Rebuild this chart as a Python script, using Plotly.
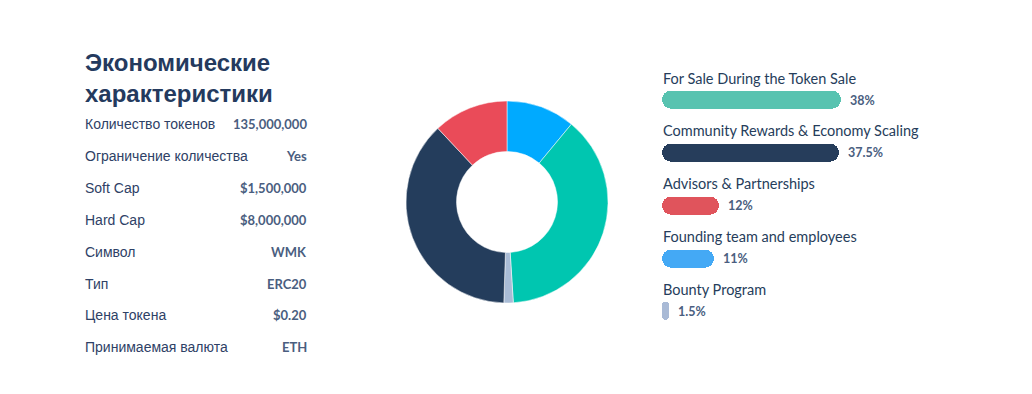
import plotly.graph_objects as go

# ---- data ----
categories = [
    "For Sale During the Token Sale",
    "Community Rewards & Economy Scaling",
    "Advisors & Partnerships",
    "Founding team and employees",
    "Bounty Program",
]
shares = [38, 37.5, 12, 11, 1.5]
bar_colors = ["#58C3B0", "#263D5B", "#E0545C", "#44A9F5", "#A9BAD6"]
pie_colors = ["#00C6B0", "#243D5C", "#EA4B59", "#00AAFF", "#A9BCD6"]
# clockwise order of slices starting at 12 o'clock
pie_order = [
    "Founding team and employees",
    "For Sale During the Token Sale",
    "Bounty Program",
    "Community Rewards & Economy Scaling",
    "Advisors & Partnerships",
]

title_lines = ["Экономические", "характеристики"]
row_labels = [
    "Количество токенов", "Ограничение количества", "Soft Cap", "Hard Cap",
    "Символ", "Тип", "Цена токена", "Принимаемая валюта",
]
row_values = [
    "135,000,000", "Yes", "$1,500,000", "$8,000,000",
    "WMK", "ERC20", "$0.20", "ETH",
]

W, H = 1032, 394


def px(x):
    return x / W


def py(y):
    return 1 - y / H


fig = go.Figure()

idx = [categories.index(c) for c in pie_order]
fig.add_trace(go.Pie(
    labels=[categories[i] for i in idx],
    values=[shares[i] for i in idx],
    marker=dict(colors=[pie_colors[i] for i in idx],
                line=dict(color="white", width=0.5)),
    hole=0.5, sort=False, direction="clockwise", rotation=0,
    textinfo="none", hoverinfo="label+percent", showlegend=False,
    domain=dict(x=[px(406), px(608)], y=[py(303), py(101)]),
))

# pill-shaped bars (explicit base -> all four corners rounded)
ypos = list(range(len(categories)))
fig.add_trace(go.Bar(
    x=shares, base=0, y=ypos, orientation="h",
    marker=dict(color=bar_colors, cornerradius=9, line=dict(width=0)),
    width=0.34, hoverinfo="skip", showlegend=False,
))

annotations = []
for i, (c, v) in enumerate(zip(categories, shares)):
    annotations.append(dict(
        x=0, y=i, xref="x", yref="y", text=c, showarrow=False,
        xanchor="left", yanchor="middle", yshift=22, xshift=-1,
        font=dict(family="Lato, Open Sans, sans-serif", size=14.5, color="#263D5B"),
    ))
    annotations.append(dict(
        x=v, y=i, xref="x", yref="y", text=f"{v:g}%", showarrow=False,
        xanchor="left", yanchor="middle", xshift=7,
        font=dict(family="Lato, sans-serif", size=12.5, color="#4A5E80", weight="bold"),
    ))

for k, t in enumerate(title_lines):
    annotations.append(dict(
        x=px(83), y=py(62 + 31 * k), xref="paper", yref="paper", text=f"<b>{t}</b>",
        showarrow=False, xanchor="left", yanchor="middle",
        font=dict(family="Liberation Sans, Arial, sans-serif", size=24, color="#243A5E"),
    ))

for k, (lab, val) in enumerate(zip(row_labels, row_values)):
    yy = 124 + 31.9 * k
    annotations.append(dict(
        x=px(83), y=py(yy), xref="paper", yref="paper", text=lab,
        showarrow=False, xanchor="left", yanchor="middle",
        font=dict(family="Liberation Sans, Arial, sans-serif", size=14, color="#2E4166"),
    ))
    annotations.append(dict(
        x=px(309), y=py(yy), xref="paper", yref="paper", text=f"<b>{val}</b>",
        showarrow=False, xanchor="right", yanchor="middle",
        font=dict(family="Lato, sans-serif", size=13, color="#4A5E80"),
    ))

x_per_pct = 179 / 38
fig.update_layout(
    width=W, height=H, margin=dict(l=0, r=0, t=0, b=0),
    paper_bgcolor="white", plot_bgcolor="white",
    xaxis=dict(domain=[px(662), px(662 + 50 * x_per_pct)], range=[0, 50],
               visible=False, fixedrange=True),
    yaxis=dict(domain=[py(100 + 4.5 * 52.75), py(100 - 0.5 * 52.75)],
               range=[4.5, -0.5], visible=False, fixedrange=True),
    annotations=annotations,
    bargap=0,
)

fig.write_html(
    "out.html",
    config={"displayModeBar": False},
    post_script="document.body.style.margin='0';document.body.style.overflow='hidden';",
)
